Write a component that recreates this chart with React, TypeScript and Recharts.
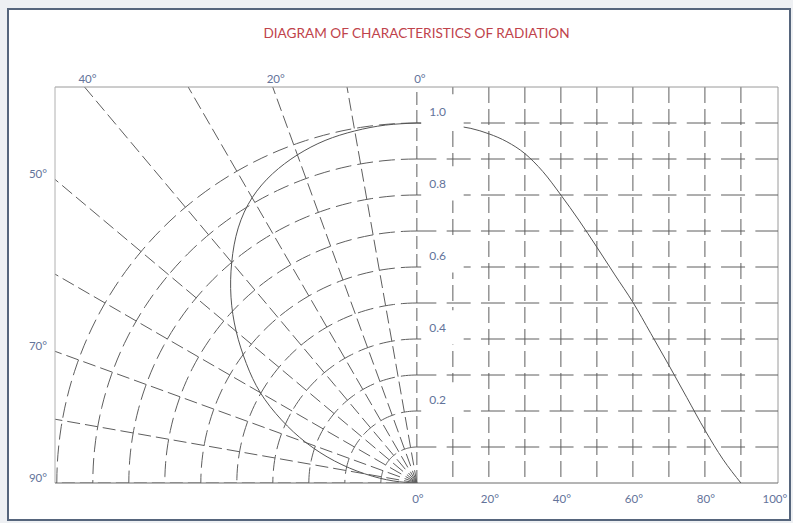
import { ComposedChart, Line, XAxis, YAxis, ReferenceArea, ReferenceLine } from "recharts";

// chart data
const RADII = [0.1, 0.2, 0.3, 0.4, 0.5, 0.6, 0.7, 0.8, 0.9, 1.0];
const RADIAL_ANGLES = [0, 10, 20, 30, 40, 50, 60, 70, 80, 90];
const GRID_DEGREES = [10, 20, 30, 40, 50, 60, 70, 80, 90];
const PATTERN_ANGLES = [0, 5, 10, 15, 20, 25, 30, 35, 40, 45, 50, 55, 60, 65, 70, 75, 80, 85, 90];
const PATTERN_VALUES = [1.0, 0.998, 0.993, 0.985, 0.97, 0.948, 0.915, 0.865, 0.8, 0.73, 0.655, 0.578, 0.502, 0.415, 0.327, 0.237, 0.147, 0.066, 0];
const BOTTOM_TICKS = [0, 20, 40, 60, 80, 100];
const TOP_TICK_ANGLES = [40, 20, 0];
const LEFT_TICK_ANGLES = [50, 70, 90];
const VALUE_LABELS = [1.0, 0.8, 0.6, 0.4, 0.2];

const X_MIN = -1.005;
const X_MAX = 1.003;
const Y_MAX = 1.1;
const ARC_STEP = 1.5; // drawing resolution of the grid arcs

const rad = (d: number) => (d * Math.PI) / 180;
const polar = (r: number, deg: number) => ({ x: -r * Math.sin(rad(deg)), y: r * Math.cos(rad(deg)) });

const arcSteps: number[] = [];
for (let a = 0; a <= 90 + 1e-9; a += ARC_STEP) arcSteps.push(a);

const arcs = RADII.map((r) => arcSteps.map((a) => polar(r, a)));
const radials = RADIAL_ANGLES.map((deg) => {
  const s = Math.sin(rad(deg));
  const c = Math.cos(rad(deg));
  const t = Math.min(c > 1e-9 ? Y_MAX / c : Infinity, s > 1e-9 ? -X_MIN / s : Infinity);
  return [{ x: 0, y: 0 }, polar(t, deg)];
});
const horizontals = RADII.map((r) => [{ x: 0, y: r }, { x: X_MAX, y: r }]);
const verticals = GRID_DEGREES.map((d) => [{ x: d / 100, y: Y_MAX }, { x: d / 100, y: 0 }]);
const patternRight = PATTERN_ANGLES.map((a, i) => ({ x: a / 100, y: PATTERN_VALUES[i] }));
const patternPolar = PATTERN_ANGLES.map((a, i) => polar(PATTERN_VALUES[i], a));

const topTicks = TOP_TICK_ANGLES.map((a) => -Y_MAX * Math.tan(rad(a)));
const leftTicks = LEFT_TICK_ANGLES.map((a) => (a >= 90 ? 0 : -X_MIN / Math.tan(rad(a))));

const findLabel = (ticks: number[], angles: number[], v: number) => {
  const i = ticks.findIndex((t) => Math.abs(t - v) < 1e-6);
  return i >= 0 ? `${angles[i]}°` : "";
};

const TEXT = "#63739a";
const GRID = "#5e5e5e";
const CURVE = "#555";
const FONT = "Lato, 'Open Sans', sans-serif";

function BottomTick(props: any) {
  const { x, y, payload } = props;
  const last = payload.value >= 0.999;
  return (
    <text x={x + (last ? -2 : 1)} y={y + 4} dy="0.71em" textAnchor="middle" fill={TEXT} fontSize={11.5} fontFamily={FONT}>
      {`${Math.round(payload.value * 100)}°`}
    </text>
  );
}

export default function App() {
  return (
    <div style={{ position: "absolute", left: 0, top: 0, width: 793, height: 523, background: "#eef0f3", fontFamily: FONT }}>
      <div
        style={{
          position: "absolute",
          left: 7,
          top: 8,
          width: 780,
          height: 509,
          border: "2px solid #56657c",
          background: "#fff",
        }}
      />
      <div
        style={{
          position: "absolute",
          left: 55,
          width: 723,
          top: 25,
          textAlign: "center",
          color: "#c0434b",
          fontSize: 13.6,
        }}
      >
        DIAGRAM OF CHARACTERISTICS OF RADIATION
      </div>
      <div style={{ position: "absolute", left: 0, top: 0 }}>
        <ComposedChart width={793} height={523} margin={{ top: 67, right: 15, bottom: 0, left: 0 }}>
          <XAxis
            dataKey="x"
            type="number"
            domain={[X_MIN, X_MAX]}
            allowDataOverflow
            ticks={BOTTOM_TICKS.map((d) => d / 100)}
            interval={0}
            tickLine={false}
            tickSize={6}
            axisLine={{ stroke: "#6a6a6a" }}
            tick={<BottomTick />}
            height={40}
          />
          <XAxis
            xAxisId="top"
            dataKey="x"
            type="number"
            orientation="top"
            domain={[X_MIN, X_MAX]}
            allowDataOverflow
            ticks={topTicks}
            interval={0}
            tickFormatter={(v: number) => findLabel(topTicks, TOP_TICK_ANGLES, v)}
            tickLine={false}
            tickSize={3}
            tickMargin={1}
            axisLine={{ stroke: "#9a9a9a" }}
            tick={{ fill: TEXT, fontSize: 11.5, dx: 3, fontFamily: FONT }}
            height={20}
          />
          <YAxis
            type="number"
            domain={[0, Y_MAX]}
            allowDataOverflow
            ticks={leftTicks}
            interval={0}
            tickFormatter={(v: number) => findLabel(leftTicks, LEFT_TICK_ANGLES, v)}
            tickLine={false}
            axisLine={{ stroke: "#b0b0b0" }}
            tick={{ fill: TEXT, fontSize: 11.5, dy: -5, fontFamily: FONT }}
            width={55}
          />
          <ReferenceLine x={X_MAX} stroke="#9a9a9a" />

          {arcs.map((d, i) => (
            <Line key={`arc${i}`} data={d} dataKey="y" type="linear" dot={false} activeDot={false}
              stroke={GRID} strokeWidth={1} strokeDasharray="16 6" isAnimationActive={false} />
          ))}
          {radials.map((d, i) => (
            <Line key={`rad${i}`} data={d} dataKey="y" type="linear" dot={false} activeDot={false}
              stroke={GRID} strokeWidth={1} strokeDasharray="13 5" isAnimationActive={false} />
          ))}
          {horizontals.map((d, i) => (
            <Line key={`h${i}`} data={d} dataKey="y" type="linear" dot={false} activeDot={false}
              stroke={GRID} strokeWidth={1} strokeDasharray="24 10.3" strokeDashoffset={4.5} isAnimationActive={false} />
          ))}
          {verticals.map((d, i) => (
            <Line key={`v${i}`} data={d} dataKey="y" type="linear" dot={false} activeDot={false}
              stroke={GRID} strokeWidth={1} strokeDasharray="16 6" isAnimationActive={false} />
          ))}

          <Line data={patternPolar} dataKey="y" type="natural" dot={false} activeDot={false}
            stroke={CURVE} strokeWidth={1} isAnimationActive={false} />
          <Line data={patternRight} dataKey="y" type="monotone" dot={false} activeDot={false}
            stroke={CURVE} strokeWidth={1} isAnimationActive={false} />

          {VALUE_LABELS.map((v) => (
            <ReferenceArea
              key={`lab${v}`}
              x1={0.012}
              x2={0.13}
              y1={v - 0.015}
              y2={v + 0.08}
              fill="#fff"
              fillOpacity={1}
              stroke="none"
              zIndex={1500}
              label={{ value: v.toFixed(1), position: "insideLeft", offset: 8, fill: TEXT, fontSize: 12, fontFamily: FONT }}
            />
          ))}
        </ComposedChart>
      </div>
    </div>
  );
}
